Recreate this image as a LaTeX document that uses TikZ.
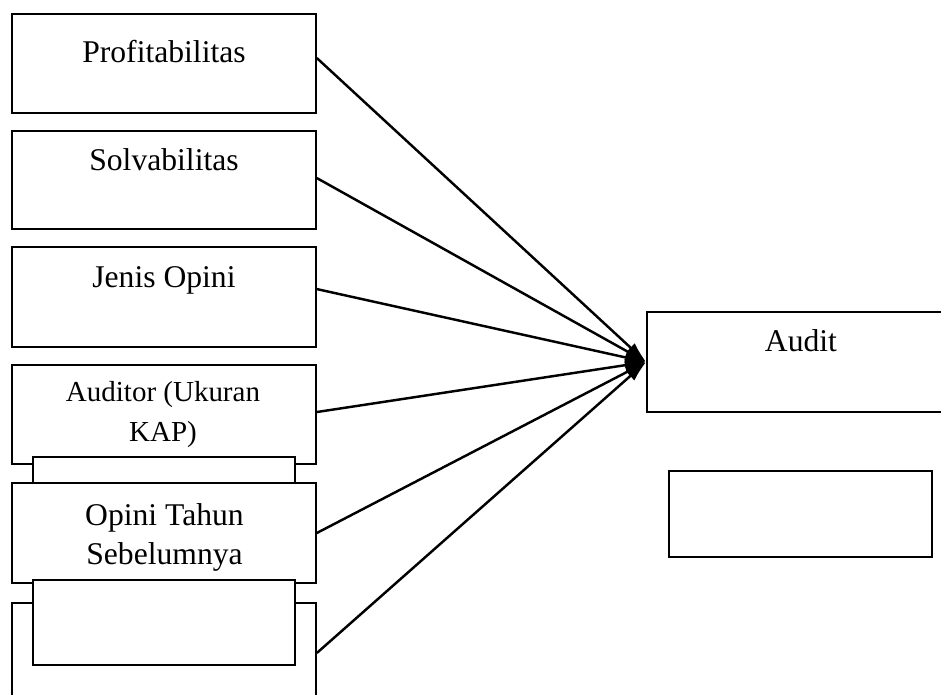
\documentclass[tikz,border=0pt]{standalone}
\usepackage{fontspec}
\setmainfont{Liberation Serif}
\usetikzlibrary{arrows.meta, positioning}

\tikzset{
  varbox/.style={draw, line width=1pt, fill=white, minimum width=6.08cm, inner sep=0pt},
  lbl/.style={font=\fontsize{18}{22.7}\selectfont, align=center, inner sep=0pt, anchor=base},
  lblsmall/.style={font=\fontsize{16.5}{23}\selectfont, align=center, inner sep=0pt, anchor=base},
  link/.style={line width=1.4pt, -{Latex[length=12pt,width=7pt]}}
}

\begin{document}
\begin{tikzpicture}[x=0.02cm, y=-0.02cm]
    \useasboundingbox (0,0) rectangle (941,695);
    \clip (0,0) rectangle (941,695);
    % independent variables
    \node at (164,63.5) [varbox, minimum height=1.98cm] (prof) {};
    \node at (164,180) [varbox, minimum height=1.96cm] (solv) {};
    \node at (164,297) [varbox, minimum height=2cm] (opini) {};
    \node at (164,414.5) [varbox, minimum height=1.98cm] (kap) {};
    \node at (164,533) [varbox, minimum height=2cm] (prev) {};
    \node at (164,653) [varbox, minimum height=2cm] (extra) {};
    % empty boxes on top
    \node at (164,470) [varbox, minimum width=5.24cm, minimum height=0.52cm] (gapA) {};
    \node at (164,622.5) [varbox, minimum width=5.24cm, minimum height=1.7cm] (gapB) {};
    % dependent variable
    \node at (801,362) [varbox, minimum width=6.16cm, minimum height=2cm] (audit) {};
    \node at (800.5,514) [varbox, minimum width=5.26cm, minimum height=1.72cm] (note) {};
    % labels
    \node at (164,63) [lbl] (profT) {Profitabilitas};
    \node at (164,171) [lbl] (solvT) {Solvabilitas};
    \node at (164,288) [lbl] (opiniT) {Jenis Opini};
    \node at (163,442) [lblsmall] (kapT) {Auditor (Ukuran\\KAP)};
    \node at (164.5,565) [lbl] (prevT) {Opini Tahun\\Sebelumnya};
    \node at (801,352) [lbl] (auditT) {Audit};
    % arrows
    \draw[link] ([yshift=3.1pt]prof.east) -- (audit.west);
    \draw[link] ([yshift=1.1pt]solv.east) -- (audit.west);
    \draw[link] ([yshift=4.5pt]opini.east) -- (audit.west);
    \draw[link] ([yshift=1.4pt]kap.east) -- (audit.west);
    \draw[link] (prev.east) -- (audit.west);
    \draw[link] (extra.east) -- (audit.west);
\end{tikzpicture}
\end{document}
